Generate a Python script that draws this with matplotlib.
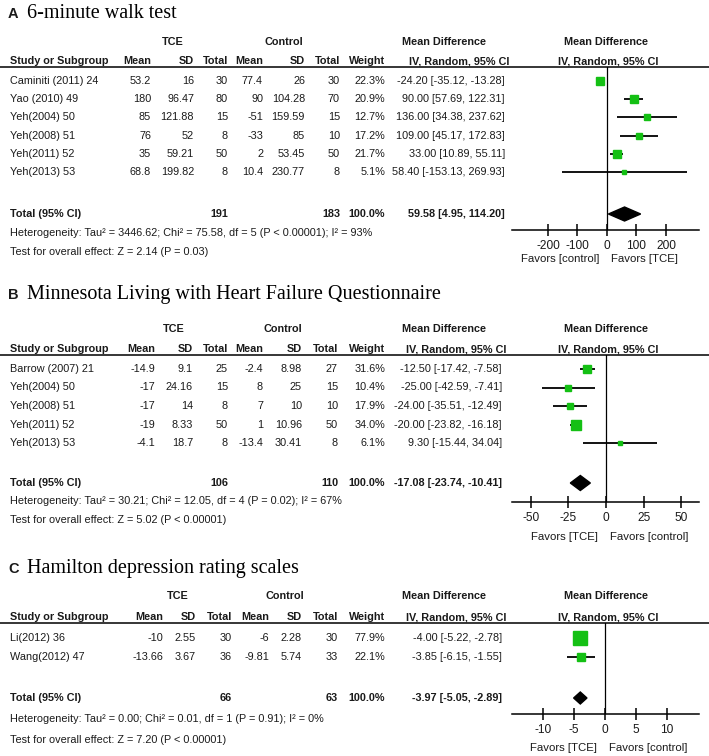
import matplotlib
matplotlib.use('Agg')
import matplotlib.pyplot as plt
from matplotlib.patches import Polygon

# ---------------- data ----------------
# Panel A: 6-minute walk test
A_studies = ["Caminiti (2011) 24", "Yao (2010) 49", "Yeh(2004) 50", "Yeh(2008) 51", "Yeh(2011) 52", "Yeh(2013) 53"]
A_tce_mean = [53.2, 180, 85, 76, 35, 68.8]
A_tce_sd = [16, 96.47, 121.88, 52, 59.21, 199.82]
A_tce_n = [30, 80, 15, 8, 50, 8]
A_ctl_mean = [77.4, 90, -51, -33, 2, 10.4]
A_ctl_sd = [26, 104.28, 159.59, 85, 53.45, 230.77]
A_ctl_n = [30, 70, 15, 10, 50, 8]
A_weight = [22.3, 20.9, 12.7, 17.2, 21.7, 5.1]
A_md = [-24.20, 90.00, 136.00, 109.00, 33.00, 58.40]
A_lo = [-35.12, 57.69, 34.38, 45.17, 10.89, -153.13]
A_hi = [-13.28, 122.31, 237.62, 172.83, 55.11, 269.93]
A_total = [191, 183]
A_total_weight = 100.0
A_pooled = [59.58, 4.95, 114.20]
A_het = "Heterogeneity: Tau\u00b2 = 3446.62; Chi\u00b2 = 75.58, df = 5 (P < 0.00001); I\u00b2 = 93%"
A_test = "Test for overall effect: Z = 2.14 (P = 0.03)"
A_ticks = [-200, -100, 0, 100, 200]
A_favors = ["Favors [control]", "Favors [TCE]"]

# Panel B: Minnesota Living with Heart Failure Questionnaire
B_studies = ["Barrow (2007) 21", "Yeh(2004) 50", "Yeh(2008) 51", "Yeh(2011) 52", "Yeh(2013) 53"]
B_tce_mean = [-14.9, -17, -17, -19, -4.1]
B_tce_sd = [9.1, 24.16, 14, 8.33, 18.7]
B_tce_n = [25, 15, 8, 50, 8]
B_ctl_mean = [-2.4, 8, 7, 1, -13.4]
B_ctl_sd = [8.98, 25, 10, 10.96, 30.41]
B_ctl_n = [27, 15, 10, 50, 8]
B_weight = [31.6, 10.4, 17.9, 34.0, 6.1]
B_md = [-12.50, -25.00, -24.00, -20.00, 9.30]
B_lo = [-17.42, -42.59, -35.51, -23.82, -15.44]
B_hi = [-7.58, -7.41, -12.49, -16.18, 34.04]
B_total = [106, 110]
B_total_weight = 100.0
B_pooled = [-17.08, -23.74, -10.41]
B_het = "Heterogeneity: Tau\u00b2 = 30.21; Chi\u00b2 = 12.05, df = 4 (P = 0.02); I\u00b2 = 67%"
B_test = "Test for overall effect: Z = 5.02 (P < 0.00001)"
B_ticks = [-50, -25, 0, 25, 50]
B_favors = ["Favors [TCE]", "Favors [control]"]

# Panel C: Hamilton depression rating scales
C_studies = ["Li(2012) 36", "Wang(2012) 47"]
C_tce_mean = [-10, -13.66]
C_tce_sd = [2.55, 3.67]
C_tce_n = [30, 36]
C_ctl_mean = [-6, -9.81]
C_ctl_sd = [2.28, 5.74]
C_ctl_n = [30, 33]
C_weight = [77.9, 22.1]
C_md = [-4.00, -3.85]
C_lo = [-5.22, -6.15]
C_hi = [-2.78, -1.55]
C_total = [66, 63]
C_total_weight = 100.0
C_pooled = [-3.97, -5.05, -2.89]
C_het = "Heterogeneity: Tau\u00b2 = 0.00; Chi\u00b2 = 0.01, df = 1 (P = 0.91); I\u00b2 = 0%"
C_test = "Test for overall effect: Z = 7.20 (P < 0.00001)"
C_ticks = [-10, -5, 0, 5, 10]
C_favors = ["Favors [TCE]", "Favors [control]"]

titles = [("A", "6-minute walk test"),
          ("B", "Minnesota Living with Heart Failure Questionnaire"),
          ("C", "Hamilton depression rating scales")]

# ---------------- styling / layout ----------------
W, H = 709, 756
SANS = ['Liberation Sans', 'Arimo', 'DejaVu Sans']
SERIF = ['Liberation Serif', 'DejaVu Serif']
FS = 7.8
TXT = '#1a1a1a'
GREEN = '#14c014'

fig = plt.figure(figsize=(W / 100, H / 100), dpi=100)
bg = fig.add_axes([0, 0, 1, 1])
bg.set_xlim(0, W)
bg.set_ylim(H, 0)
bg.axis('off')


def T(x, y, s, ha='left', bold=False, size=FS, fam=SANS, color=TXT):
    bg.text(x, y, s, ha=ha, va='center', family=fam, size=size,
            weight='bold' if bold else 'normal', color=color)


def g(v):
    return f"{v:g}"


def draw_panel(letter, title, d, L):
    # title
    T(8, L['title_y'] + 1, letter, bold=True, size=10.5)
    T(27, L['title_y'], title, size=14.5, fam=SERIF, color='black')
    cx = L['cols']
    # group headers
    T(L['tce_c'], L['group_y'], "TCE", ha='center', bold=True)
    T(L['ctl_c'], L['group_y'], "Control", ha='center', bold=True)
    T(444, L['group_y'], "Mean Difference", ha='center', bold=True)
    T(606, L['group_y'], "Mean Difference", ha='center', bold=True)
    # column headers
    hy = L['head_y']
    T(10, hy, "Study or Subgroup", bold=True)
    for lab, x in zip(["Mean", "SD", "Total", "Mean", "SD", "Total"], cx):
        T(x, hy, lab, ha='right', bold=True)
    T(385, hy, "Weight", ha='right', bold=True)
    T(L['ci_r'] + 4, hy, "IV, Random, 95% CI", ha='right', bold=True)
    T(608, hy, "IV, Random, 95% CI", ha='center', bold=True)
    bg.plot([0, W], [L['line_y'], L['line_y']], color='black', lw=1.1)

    n = len(d['studies'])
    rows = [L['row0'] + i * L['dy'] for i in range(n)]
    for i, y in enumerate(rows):
        T(10, y, d['studies'][i])
        vals = [g(d['tm'][i]), g(d['ts'][i]), str(d['tn'][i]),
                g(d['cm'][i]), g(d['cs'][i]), str(d['cn'][i])]
        for v, x in zip(vals, cx):
            T(x, y, v, ha='right')
        T(385, y, f"{d['w'][i]:.1f}%", ha='right')
        T(L['ci_r'], y, f"{d['md'][i]:.2f} [{d['lo'][i]:.2f}, {d['hi'][i]:.2f}]", ha='right')
    ty = L['total_y']
    T(10, ty, "Total (95% CI)", bold=True)
    T(cx[2], ty, str(d['tot'][0]), ha='right', bold=True)
    T(cx[5], ty, str(d['tot'][1]), ha='right', bold=True)
    T(385, ty, f"{d['tw']:.1f}%", ha='right', bold=True)
    p = d['pool']
    T(L['ci_r'], ty, f"{p[0]:.2f} [{p[1]:.2f}, {p[2]:.2f}]", ha='right', bold=True)
    T(10, L['het_y'], d['het'])
    T(10, L['test_y'], d['test'])

    # forest axes
    x0, x1 = 512, 699
    y0, y1 = L['line_y'], L['axis_y']
    ax = fig.add_axes([x0 / W, 1 - y1 / H, (x1 - x0) / W, (y1 - y0) / H])
    ax.patch.set_alpha(0)
    ax.set_xlim(*L['xlim'])
    ax.set_ylim(y1, y0)
    for s in ['top', 'left', 'right']:
        ax.spines[s].set_visible(False)
    ax.spines['bottom'].set_linewidth(1.1)
    ax.set_yticks([])
    ax.set_xticks(d['ticks'])
    ax.set_xticklabels([str(t) for t in d['ticks']], family=SANS, size=8.6, color=TXT)
    ax.tick_params(axis='x', direction='inout', length=9, width=1.1, pad=2.5)
    ax.axvline(0, color='black', lw=0.9, zorder=1)
    for i, y in enumerate(rows):
        ax.plot([d['lo'][i], d['hi'][i]], [y, y], color='black', lw=1.3, zorder=2,
                solid_capstyle='butt')
        ax.plot([d['md'][i]], [y], marker='s', ms=1.14 * d['w'][i] ** 0.5,
                color=GREEN, mec=GREEN, zorder=3)
    h = L['dh']
    ax.add_patch(Polygon([(p[1], ty), (p[0], ty - h), (p[2], ty), (p[0], ty + h)],
                         closed=True, color='black', zorder=3))
    # favors
    zx = x0 + (0 - L['xlim'][0]) / (L['xlim'][1] - L['xlim'][0]) * (x1 - x0)
    T(zx - 8, L['fav_y'], d['fav'][0], ha='right', size=8.2)
    T(zx + 4, L['fav_y'], d['fav'][1], ha='left', size=8.2)


panels = [
    dict(studies=A_studies, tm=A_tce_mean, ts=A_tce_sd, tn=A_tce_n, cm=A_ctl_mean, cs=A_ctl_sd,
         cn=A_ctl_n, w=A_weight, md=A_md, lo=A_lo, hi=A_hi, tot=A_total, tw=A_total_weight,
         pool=A_pooled, het=A_het, test=A_test, ticks=A_ticks, fav=A_favors),
    dict(studies=B_studies, tm=B_tce_mean, ts=B_tce_sd, tn=B_tce_n, cm=B_ctl_mean, cs=B_ctl_sd,
         cn=B_ctl_n, w=B_weight, md=B_md, lo=B_lo, hi=B_hi, tot=B_total, tw=B_total_weight,
         pool=B_pooled, het=B_het, test=B_test, ticks=B_ticks, fav=B_favors),
    dict(studies=C_studies, tm=C_tce_mean, ts=C_tce_sd, tn=C_tce_n, cm=C_ctl_mean, cs=C_ctl_sd,
         cn=C_ctl_n, w=C_weight, md=C_md, lo=C_lo, hi=C_hi, tot=C_total, tw=C_total_weight,
         pool=C_pooled, het=C_het, test=C_test, ticks=C_ticks, fav=C_favors),
]

layouts = [
    dict(title_y=13, group_y=42, head_y=61, line_y=67, row0=81, dy=18.2, total_y=214,
         het_y=233, test_y=252, axis_y=230, fav_y=259, cols=[151, 194, 228, 263, 305, 340],
         tce_c=173, ctl_c=284, ci_r=505, xlim=(-322, 312), dh=7),
    dict(title_y=294, group_y=329, head_y=349, line_y=355, row0=369, dy=18.5, total_y=483,
         het_y=501, test_y=520, axis_y=502, fav_y=537, cols=[155, 193, 228, 263, 302, 338],
         tce_c=174, ctl_c=283, ci_r=502, xlim=(-62.5, 61.8), dh=7.5),
    dict(title_y=568, group_y=596, head_y=617, line_y=623, row0=638, dy=19, total_y=698,
         het_y=719, test_y=740, axis_y=714, fav_y=748, cols=[163, 196, 232, 269, 302, 338],
         tce_c=178, ctl_c=285, ci_r=502, xlim=(-15.0, 15.2), dh=6),
]

for (letter, title), d, L in zip(titles, panels, layouts):
    draw_panel(letter, title, d, L)

fig.savefig('out.png', dpi=100)
